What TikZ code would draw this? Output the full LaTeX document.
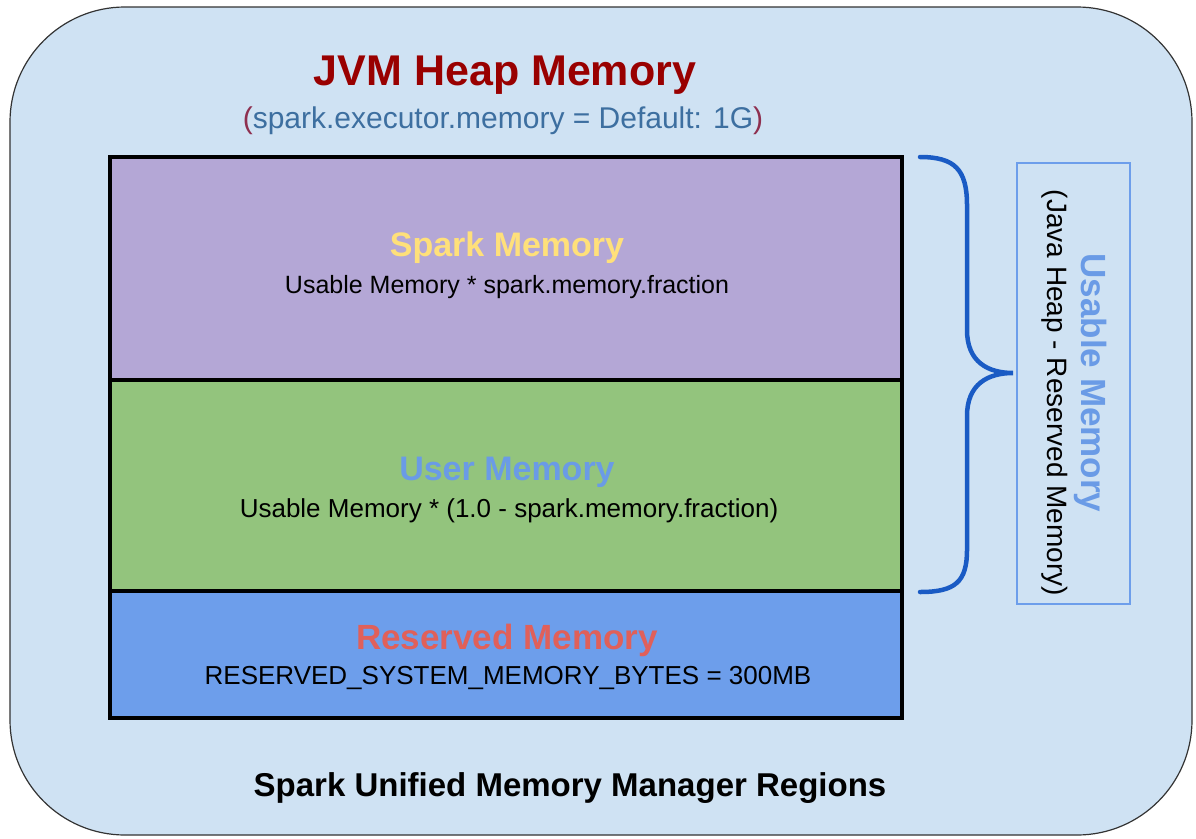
\documentclass[tikz,border=0pt]{standalone}
\usepackage{fontspec}
\setmainfont{Liberation Sans}
\definecolor{bgblue}{HTML}{CFE2F3}
\definecolor{sparkfill}{HTML}{B4A7D6}
\definecolor{userfill}{HTML}{93C47D}
\definecolor{resfill}{HTML}{6D9EEB}
\definecolor{titlered}{HTML}{990000}
\definecolor{subblue}{HTML}{3D6FA0}
\definecolor{parenred}{HTML}{8E2F4F}
\definecolor{sparkyellow}{HTML}{FFE07A}
\definecolor{userblue}{HTML}{6A9BE6}
\definecolor{resred}{HTML}{E0605A}
\definecolor{bracecol}{HTML}{1A5BC4}
\definecolor{boxline}{HTML}{6D9EEB}
\newcommand{\fsz}[1]{\fontsize{#1}{#1}\selectfont}
\tikzset{
  region/.style={draw=black, line width=3.5pt},
  lbl/.style={inner sep=0pt, anchor=center},
}
\begin{document}
\begin{tikzpicture}[x=1pt,y=-1pt]
\useasboundingbox (0,0) rectangle (1196,838);
% outer
\draw[fill=bgblue, draw=black!80, line width=1.2pt, rounded corners=115pt] (10,7) rectangle (1192,835);
% regions
\draw[region, fill=sparkfill] (110,157) rectangle (902,380);
\draw[region, fill=userfill] (110,380) rectangle (902,591);
\draw[region, fill=resfill] (110,591) rectangle (902,718);
% titles
\node[lbl, font=\fsz{43}\bfseries, text=titlered] (title) at (505,75) {JVM Heap Memory};
\node[lbl, font=\fsz{30}, text=subblue] (sub) at (503,121) {\textcolor{parenred}{(}spark.executor.memory = Default: 1G\textcolor{parenred}{)}};
\node[lbl, font=\fsz{34}\bfseries, text=sparkyellow] (spark) at (507,248) {Spark Memory};
\node[lbl, font=\fsz{25}] (sparkf) at (507,287) {Usable Memory * spark.memory.fraction};
\node[lbl, font=\fsz{34}\bfseries, text=userblue] (user) at (507,472) {User Memory};
\node[lbl, font=\fsz{26}] (userf) at (509,511) {Usable Memory * (1.0 - spark.memory.fraction)};
\node[lbl, font=\fsz{35}\bfseries, text=resred] (res) at (507,640) {Reserved Memory};
\node[lbl, font=\fsz{26}] (resf) at (508,678) {RESERVED\_SYSTEM\_MEMORY\_BYTES = 300MB};
\node[lbl, font=\fsz{33}\bfseries] (cap) at (570,788) {Spark Unified Memory Manager Regions};
% brace
\draw[bracecol, line width=4.5pt, line cap=round]
  (920,157) .. controls (955,157) and (967,170) .. (967,205) -- (967,330)
  .. controls (967,362) and (988,373) .. (1013,373)
  .. controls (988,373) and (967,384) .. (967,416) -- (967,550)
  .. controls (967,582) and (955,592) .. (920,592);
% usable box
\draw[boxline, line width=1.2pt] (1017,163) rectangle (1130,604);
\node[lbl, font=\fsz{35}\bfseries, text=userblue, rotate=-90] (usable) at (1091,383) {Usable Memory};
\node[lbl, font=\fsz{28}, rotate=-90] (usablef) at (1055,393) {(Java Heap - Reserved Memory)};
\end{tikzpicture}
\end{document}
